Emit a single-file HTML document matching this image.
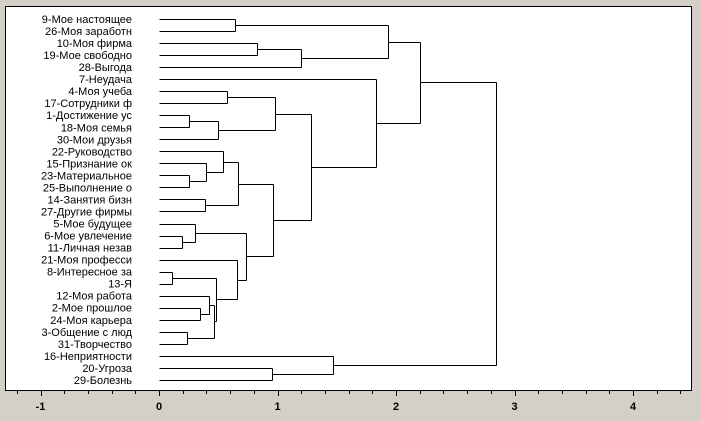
<!DOCTYPE html>
<html><head><meta charset="utf-8">
<style>
html,body{margin:0;padding:0;background:#d4d0c8;}
svg{display:block;}
text{font-family:"Liberation Sans",sans-serif;}
</style></head>
<body>
<svg id="chart" width="701" height="421" xmlns="http://www.w3.org/2000/svg">
<rect x="5.5" y="6.5" width="686" height="384" fill="#fff" stroke="#000" stroke-width="1"/>
<g id="labels"></g><g id="tree"></g><g id="axis"></g>
</svg>
<script>
const leafLabels = ["9-Мое настоящее","26-Моя заработн","10-Моя фирма","19-Мое свободно","28-Выгода","7-Неудача","4-Моя учеба","17-Сотрудники ф","1-Достижение ус","18-Моя семья","30-Мои друзья","22-Руководство","15-Признание ок","23-Материальное","25-Выполнение о","14-Занятия бизн","27-Другие фирмы","5-Мое будущее","6-Мое увлечение","11-Личная незав","21-Моя професси","8-Интересное за","13-Я","12-Моя работа","2-Мое прошлое","24-Моя карьера","3-Общение с люд","31-Творчество","16-Неприятности","20-Угроза","29-Болезнь"];
// merges: left child id, right child id (ids < 31 are leaves, 31+ are merges in order)
const mergeLeft  = [21,18,26,8,13,17,24,15,12,23,40,31,34,11,6,0,20,44,36,2,29,48,45,50,53,28,5,46,58,59];
const mergeRight = [22,19,27,9,14,32,25,16,35,37,33,41,10,39,7,1,42,38,47,3,30,49,43,4,52,51,55,54,57,56];
const mergeHeight = [0.11,0.19,0.24,0.25,0.25,0.30,0.35,0.39,0.40,0.42,0.46,0.48,0.50,0.54,0.57,0.64,0.66,0.67,0.73,0.83,0.95,0.96,0.98,1.20,1.28,1.47,1.83,1.93,2.20,2.84];
const tickLabels = [-1,0,1,2,3,4];

const NS="http://www.w3.org/2000/svg";
const xOf = v => 159 + v*118.5;
const yOf = i => 19 + i*12.03;
function mk(tag, attrs, parent){const e=document.createElementNS(NS,tag);for(const k in attrs)e.setAttribute(k,attrs[k]);document.getElementById(parent).appendChild(e);return e;}

const n = leafLabels.length;
const nodeY = [], nodeH = [];
leafLabels.forEach((t,i)=>{
  nodeY[i]=yOf(i); nodeH[i]=0;
  const e=mk('text',{x:132,y:nodeY[i]+4,'text-anchor':'end','font-size':'11'},'labels');
  
  
  e.textContent=t;
});
mergeHeight.forEach((h,k)=>{
  const a=mergeLeft[k], b=mergeRight[k], id=n+k;
  const x=Math.round(xOf(h))+0.5;
  nodeY[id]=(nodeY[a]+nodeY[b])/2; nodeH[id]=h;
  [a,b].forEach(c=>{
    const y=Math.round(nodeY[c])+0.5;
    const l=mk('line',{x1:Math.round(xOf(nodeH[c]))+0.5,y1:y,x2:x,y2:y,stroke:'#000','stroke-width':1},'tree');
    
    
  });
  const v=mk('line',{x1:x,y1:Math.round(nodeY[a])+0.5,x2:x,y2:Math.round(nodeY[b])+0.5,stroke:'#000','stroke-width':1},'tree');
  
  
});
// axis ticks
for(let i=-7;i<=22;i++){
  const v=i*0.2, x=Math.round(xOf(v))+0.5;
  if(x<6||x>691)continue;
  const major=(i%5===0);
  const t=mk('line',{x1:x,y1:391,x2:x,y2:major?396:394,stroke:'#000','stroke-width':1},'axis');
  
  
}
tickLabels.forEach(v=>{
  const e=mk('text',{x:xOf(v),y:410,'text-anchor':'middle','font-size':'11','font-weight':'bold'},'axis');
  
  
  e.textContent=String(v);
});
</script>
</body></html>
